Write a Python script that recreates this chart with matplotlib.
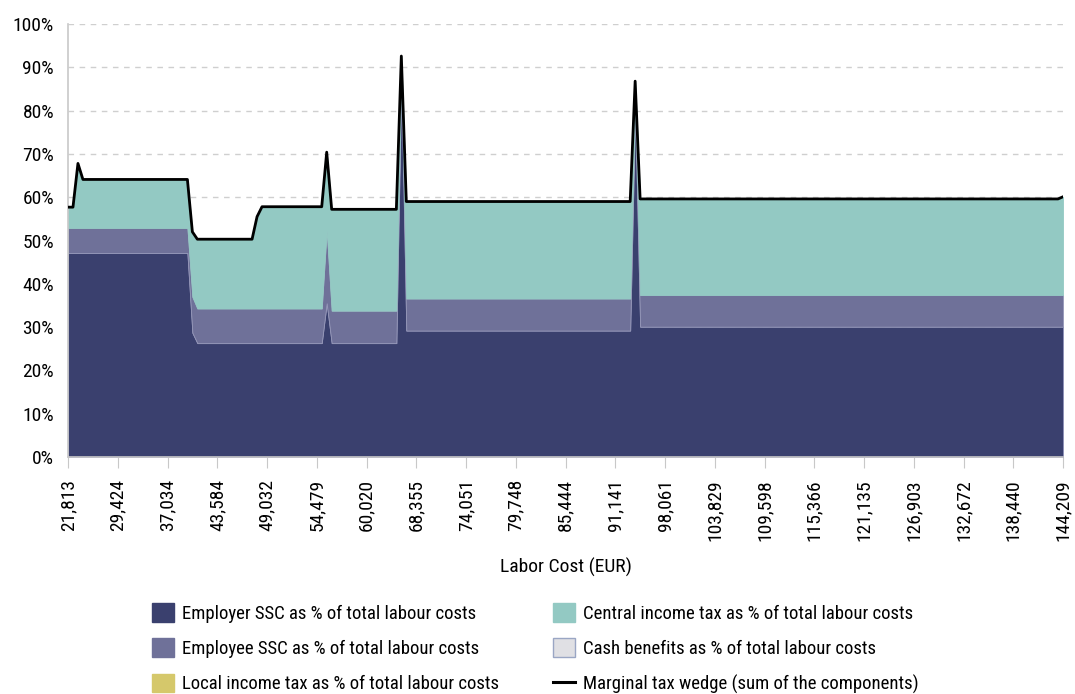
import matplotlib
matplotlib.use("Agg")
import numpy as np
import matplotlib.pyplot as plt
from matplotlib.patches import Patch
from matplotlib.lines import Line2D

plt.rcParams['font.family'] = ['Roboto Condensed', 'Barlow Condensed', 'Oswald', 'DejaVu Sans']

# tick labels on the categorical x axis, one every 10 points
tick_labels = ["21,813", "29,424", "37,034", "43,584", "49,032", "54,479",
               "60,020", "68,355", "74,051", "79,748", "85,444", "91,141",
               "98,061", "103,829", "109,598", "115,366", "121,135", "126,903",
               "132,672", "138,440", "144,209"]

# components in % of total labour costs, 201 points
employer_ssc = ([47.1] * 25 + [28.7] + [26.3] * 26 + [35.5] + [26.3] * 14
                + [88.0] + [29.2] * 46 + [80.5] + [30.1] * 86)
employee_ssc = ([5.8] * 25 + [8.3] + [8.0] * 26 + [16.9] + [7.5] * 14
                + [2.0] + [7.4] * 46 + [3.0] + [7.3] * 86)
central_tax = ([4.8] * 2 + [14.9] + [11.2] * 22 + [15.0] + [16.0] * 12 + [21.2]
               + [23.5] * 13 + [18.0] + [23.4] * 14 + [2.6] + [22.4] * 46
               + [3.3] + [22.2] * 85 + [22.7])
cash_benefits = [0.0] * 201
local_tax = [0.0] * 201

employer_ssc = np.array(employer_ssc)
employee_ssc = np.array(employee_ssc)
central_tax = np.array(central_tax)
cash_benefits = np.array(cash_benefits)
local_tax = np.array(local_tax)
wedge = employer_ssc + employee_ssc + local_tax + central_tax + cash_benefits

x = np.arange(len(employer_ssc))

c_employer = "#3a406e"
c_employee = "#6f7199"
c_local = "#d5c86b"
c_central = "#93c9c3"
c_cash = "#e0e0e4"

fig = plt.figure(figsize=(10.75, 6.94), dpi=100)
ax = fig.add_axes([68 / 1075, 1 - 457 / 694, 995 / 1075, 433 / 694])

# local tax and cash benefits are zero, so they leave no visible band
layers = [employer_ssc, employee_ssc, central_tax]
cols = [c_employer, c_employee, c_central]
edges = ["#8d90b8", "#9597b8", c_central]
base = np.zeros(len(x))
for vals, col, ec in zip(layers, cols, edges):
    ax.fill_between(x, base, base + vals, facecolor=col, edgecolor=ec,
                    linewidth=0.6, zorder=2)
    base = base + vals

ax.plot(x, wedge, color="black", linewidth=2.0, zorder=4)

ax.set_xlim(0, 200)
ax.set_ylim(0, 100)
ax.set_yticks(np.arange(0, 101, 10))
ax.set_yticklabels([f"{v}%" for v in range(0, 101, 10)], fontsize=14)
ax.set_xticks(np.arange(0, 201, 10))
ax.set_xticklabels(tick_labels, rotation=90, fontsize=14)
ax.tick_params(axis="y", length=0, pad=10)
ax.tick_params(axis="x", length=8, color="#c8c8c8", pad=8)
ax.grid(axis="y", linestyle=(0, (4, 4)), color="#cfcfcf", linewidth=1, zorder=0)
ax.set_axisbelow(True)
for s in ["top", "right"]:
    ax.spines[s].set_visible(False)
for s in ["left", "bottom"]:
    ax.spines[s].set_color("#c8c8c8")
    ax.spines[s].set_linewidth(1.2)

ax.set_xlabel("Labor Cost (EUR)", fontsize=14, labelpad=12)

handles = [
    Patch(facecolor=c_employer, edgecolor=c_employer),
    Patch(facecolor=c_employee, edgecolor=c_employee),
    Patch(facecolor=c_local, edgecolor=c_local),
    Patch(facecolor=c_central, edgecolor=c_central),
    Patch(facecolor=c_cash, edgecolor="#9aa6c4"),
    Line2D([0], [0], color="black", linewidth=2.2),
]
labels = [
    "Employer SSC as % of total labour costs",
    "Employee SSC as % of total labour costs",
    "Local income tax as % of total labour costs",
    "Central income tax as % of total labour costs",
    "Cash benefits as % of total labour costs",
    "Marginal tax wedge (sum of the components)",
]
fig.legend(handles, labels, ncol=2, loc="upper left",
           bbox_to_anchor=(152 / 1075, 1 - 603 / 694), frameon=False,
           borderpad=0, borderaxespad=0,
           fontsize=13.5, handlelength=1.15, handleheight=1.15,
           handletextpad=0.45, columnspacing=2.9, labelspacing=0.84)

fig.savefig("out.png", dpi=100)
